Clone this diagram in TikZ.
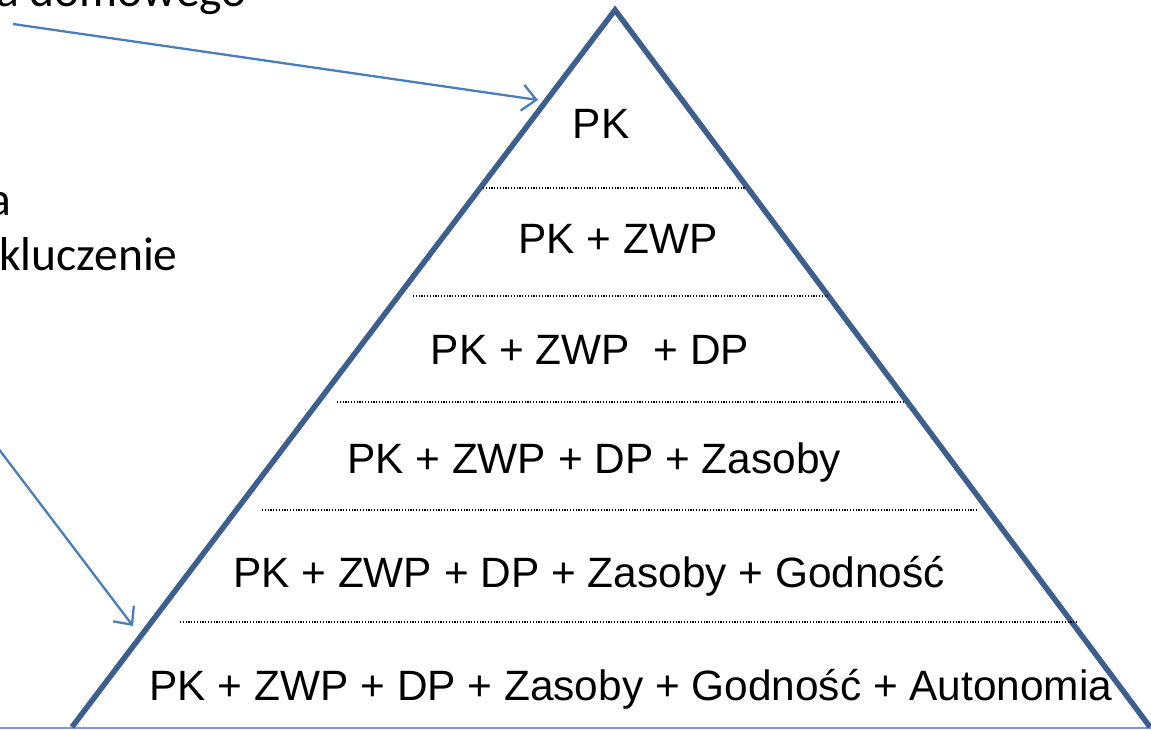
\documentclass[tikz,border=0pt]{standalone}
\usepackage{fontspec}
\setmainfont{Liberation Sans}
\newfontfamily\calfont{Carlito}
\usetikzlibrary{arrows.meta}
\definecolor{pyrblue}{HTML}{3C5F8E}
\definecolor{arrblue}{HTML}{4A7EBB}
\definecolor{baseblue}{HTML}{7F9AC2}
\tikzset{
  layertext/.style={anchor=base, inner sep=0pt, font=\fontsize{42.4}{50}\selectfont},
  sidetext/.style={inner sep=0pt, font=\calfont\fontsize{47.5}{57}\selectfont},
  divider/.style={line width=1.2pt, dash pattern=on 1.2pt off 1.6pt, black},
  pyrside/.style={line width=5.5pt, pyrblue, line join=miter},
  pointer/.style={line width=2.3pt, arrblue, -{Straight Barb[length=14pt,width=26pt,line width=2.3pt]}},
}
\begin{document}
\begin{tikzpicture}[x=1pt,y=-1pt]
\useasboundingbox (0,0) rectangle (1151,729);
\clip (0,0) rectangle (1151,729);
\fill[white] (0,0) rectangle (1151,729);
% side texts (clipped at the left/top edge, as in the reference)
\node[sidetext, anchor=base west] (t1) at (-4,6) {a domowego};
\node[sidetext, anchor=base east] (t2) at (11,215) {a};
\node[sidetext, anchor=base west] (t3) at (-1,270) {kluczenie};
% pyramid
\coordinate (apex) at (615,10);
\coordinate (bl) at (72,727);
\coordinate (br) at (1150,727);
\draw[line width=2pt, baseblue] (0,727.5) -- (1151,727.5);
\draw[pyrside] (bl) -- (apex) -- (br);
% dividers
\coordinate (d1l) at (483,188); \coordinate (d1r) at (745,188);
\coordinate (d2l) at (413,296); \coordinate (d2r) at (828,296);
\coordinate (d3l) at (337,402); \coordinate (d3r) at (903,402);
\coordinate (d4l) at (262,510); \coordinate (d4r) at (978,510);
\coordinate (d5l) at (180,622); \coordinate (d5r) at (1078,622);
\draw[divider] (d1l) -- (d1r);
\draw[divider] (d2l) -- (d2r);
\draw[divider] (d3l) -- (d3r);
\draw[divider] (d4l) -- (d4r);
\draw[divider] (d5l) -- (d5r);
% layer texts
\node[layertext] (l1) at (601,138) {PK};
\node[layertext] (l2) at (618,253) {PK + ZWP};
\node[layertext] (l3) at (590,364) {PK + ZWP\ \ + DP};
\node[layertext] (l4) at (594,473) {PK + ZWP + DP + Zasoby};
\node[layertext] (l5) at (589,587) {PK + ZWP + DP + Zasoby + Godność};
\node[layertext] (l6) at (631,700) {PK + ZWP + DP + Zasoby + Godność + Autonomia};
% pointers
\coordinate (p1s) at (13,24);
\coordinate (p1e) at (538,100);
\coordinate (p2s) at (-2,448);
\coordinate (p2e) at (133,626);
\draw[pointer] (p1s) -- (p1e);
\draw[pointer] (p2s) -- (p2e);
\end{tikzpicture}
\end{document}
